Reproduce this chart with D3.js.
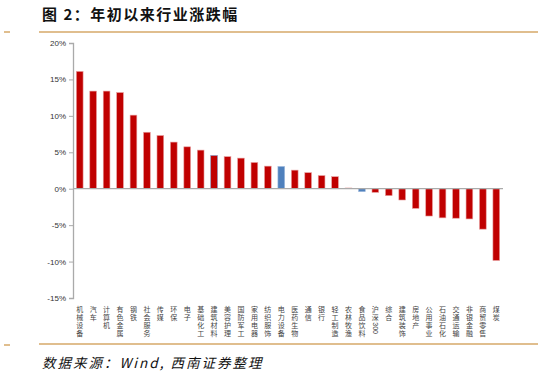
<!DOCTYPE html>
<html>
<head>
<meta charset="utf-8">
<script src="https://cdn.jsdelivr.net/npm/d3@7"></script>
<style>
  body { margin: 0; background: #fff; }
  svg { display: block; }
</style>
</head>
<body>
<svg id="chart"></svg>
<script>
// data
const industries = ["机械设备", "汽车", "计算机", "有色金属", "钢铁", "社会服务", "传媒", "环保",
  "电子", "基础化工", "建筑材料", "美容护理", "国防军工", "家用电器", "纺织服饰", "电力设备",
  "医药生物", "通信", "银行", "轻工制造", "农林牧渔", "食品饮料", "沪深300", "综合",
  "建筑装饰", "房地产", "公用事业", "石油石化", "交通运输", "非银金融", "商贸零售", "煤炭"];
const changes = [16.1, 13.4, 13.4, 13.2, 10.1, 7.75, 7.3, 6.4,
  5.75, 5.3, 4.55, 4.4, 4.2, 3.6, 3.1, 3.05,
  2.55, 2.2, 1.8, 1.65, 0.1, -0.4, -0.5, -0.95,
  -1.55, -2.7, -3.75, -4.0, -4.05, -4.15, -5.55, -9.85];
const blueBars = ["电力设备", "食品饮料"];
const yTicks = [20, 15, 10, 5, 0, -5, -10, -15];

const width = 542, height = 377;
const svg = d3.select("#chart").attr("width", width).attr("height", height);

const x = d3.scaleBand().domain(industries).range([73, 503]).paddingInner(0.5).paddingOuter(0.25);
const y = d3.scaleLinear().domain([-15, 20]).range([298, 43]);

// title + rules
svg.append("text")
  .attr("x", 42).attr("y", 20)
  .style("font-family", "'Noto Sans CJK SC', sans-serif")
  .style("font-weight", "bold")
  .style("font-size", "15px")
  .style("letter-spacing", "1.5px")
  .attr("fill", "#111")
  .text("图 2：年初以来行业涨跌幅");

const gold = "#d6a868";
svg.append("line").attr("x1", 39).attr("x2", 538).attr("y1", 32).attr("y2", 32).attr("stroke", gold).attr("stroke-width", 1.5);
svg.append("line").attr("x1", 4).attr("x2", 10).attr("y1", 32).attr("y2", 32).attr("stroke", gold).attr("stroke-width", 1.5);
svg.append("line").attr("x1", 39).attr("x2", 538).attr("y1", 344).attr("y2", 344).attr("stroke", gold).attr("stroke-width", 1.5);
svg.append("line").attr("x1", 4).attr("x2", 10).attr("y1", 345).attr("y2", 345).attr("stroke", gold).attr("stroke-width", 1.5);

// y axis
const yAxis = svg.append("g")
  .attr("transform", "translate(73,0)")
  .call(d3.axisLeft(y).tickValues(yTicks).tickSize(4).tickFormat(d => d + "%"));
yAxis.select(".domain").attr("stroke", "#aaa").attr("stroke-width", 1.3);
yAxis.selectAll(".tick line").attr("stroke", "#aaa");
yAxis.selectAll(".tick text")
  .style("font-family", "Arial, 'Liberation Sans', sans-serif")
  .style("font-size", "8px")
  .attr("fill", "#333");

// bars
svg.append("g").selectAll("rect")
  .data(industries)
  .enter()
  .append("rect")
  .attr("x", d => x(d))
  .attr("width", x.bandwidth())
  .attr("y", (d, i) => y(Math.max(0, changes[i])))
  .attr("height", (d, i) => Math.abs(y(changes[i]) - y(0)))
  .attr("fill", (d, i) => blueBars.includes(d) ? "#4f81bd" : "#c00000")
  .attr("stroke", (d, i) => d === "建筑材料" ? "#7f8fbf" : (blueBars.includes(d) ? "#9db8dc" : "#e8a0a0"))
  .attr("stroke-width", 0.6);

// zero line
svg.append("line")
  .attr("x1", 73).attr("x2", 503)
  .attr("y1", y(0)).attr("y2", y(0))
  .attr("stroke", "#aaa").attr("stroke-width", 1.2);

// vertical category labels, stacked one character per row
const step = 7.9;
const labels = svg.append("g")
  .style("font-family", "'Noto Sans CJK SC', serif")
  .style("font-size", "7px")
  .attr("fill", "#444");

industries.forEach(function (name) {
  const cx = x(name) + x.bandwidth() / 2;
  const g = labels.append("g");
  const parts = name.match(/[0-9]+|./g);
  let yy = 312;
  parts.forEach(function (p) {
    if (/^[0-9]+$/.test(p)) {
      // digits run sideways like in the source
      g.append("text")
        .attr("transform", "translate(" + (cx - 2.6) + "," + (yy - 5.5) + ") rotate(90)")
        .style("font-family", "Arial, 'Liberation Sans', sans-serif")
        .style("font-size", "7px")
        .text(p);
      yy += 12.5;
    } else {
      g.append("text")
        .attr("x", cx).attr("y", yy)
        .attr("text-anchor", "middle")
        .text(p);
      yy += step;
    }
  });
});

// source
svg.append("text")
  .attr("x", 42).attr("y", 368)
  .style("font-family", "'Noto Sans CJK SC', sans-serif")
  .style("font-style", "italic")
  .style("font-size", "13.5px")
  .style("letter-spacing", "2px")
  .attr("fill", "#111")
  .text("数据来源：Wind, 西南证券整理");
</script>
</body>
</html>
